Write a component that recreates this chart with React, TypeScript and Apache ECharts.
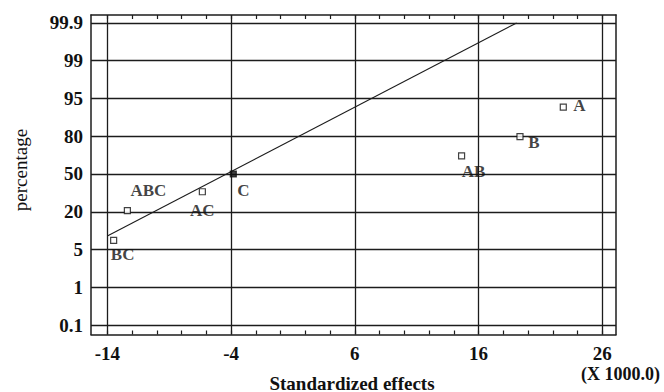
import React, { useEffect, useRef } from "react";
import * as echarts from "echarts";

const xTickValues = [-14, -4, 6, 16, 26];
const xMinorTicks = [-14, -12, -10, -8, -6, -4, -2, 0, 2, 4, 6, 8, 10, 12, 14, 16, 18, 20, 22, 24, 26];
const yTickLabels = ["0.1", "1", "5", "20", "50", "80", "95", "99", "99.9"];
const yTickIndex = [0, 1, 2, 3, 4, 5, 6, 7, 8];

const effectNames = ["BC", "ABC", "AC", "C", "AB", "B", "A"];
const effectX = [-13.49, -12.38, -6.32, -3.82, 14.63, 19.35, 22.85];
const effectY = [2.24, 3.03, 3.53, 4.0, 4.48, 4.99, 5.77];
const filledEffects = ["C"];

const fitLineX = [-14, 19.08];
const fitLineY = [2.36, 8.0];

const labelOffsets: Record<string, number[]> = {
  BC: [9, 14],
  ABC: [21, -20],
  AC: [0, 19],
  C: [10, 17],
  AB: [12, 16],
  B: [14, 6],
  A: [16, -2],
};

const FONT = "'Liberation Serif', 'Times New Roman', serif";
const INK = "#1c1c1c";

export default function App() {
  const ref = useRef<HTMLDivElement>(null);
  useEffect(() => {
    if (!ref.current) return;
    const chart = echarts.init(ref.current, undefined, { renderer: "svg" });
    const xMin = -15.32;
    const xMax = 27.11;
    const yMin = -0.25;
    const yMax = 8.21;
    const axisLine = { show: true, onZero: false, lineStyle: { color: INK, width: 1.5 } };
    chart.setOption({
      animation: false,
      backgroundColor: "#ffffff",
      textStyle: { fontFamily: FONT },
      grid: { left: 91, right: 48, top: 15, bottom: 57.5, containLabel: false },
      xAxis: [
        {
          type: "value",
          position: "bottom",
          min: xMin,
          max: xMax,
          axisLine,
          splitLine: { show: false },
          axisTick: { show: true, inside: true, length: 4, customValues: xMinorTicks, lineStyle: { color: INK, width: 1.2 } },
          axisLabel: {
            customValues: xTickValues,
            margin: 9,
            fontFamily: FONT,
            fontSize: 19,
            fontWeight: "bold",
            color: "#111",
          },
        },
        {
          type: "value",
          position: "top",
          min: xMin,
          max: xMax,
          axisLine,
          splitLine: { show: false },
          axisTick: { show: true, inside: true, length: 4, customValues: xMinorTicks, lineStyle: { color: INK, width: 1.2 } },
          axisLabel: { show: false },
        },
      ],
      yAxis: [
        {
          type: "value",
          position: "left",
          min: yMin,
          max: yMax,
          axisLine,
          splitLine: { show: false },
          axisTick: { show: false },
          axisLabel: {
            customValues: yTickIndex,
            formatter: (v: number) => yTickLabels[Math.round(v)] ?? "",
            margin: 8,
            fontFamily: FONT,
            fontSize: 19,
            fontWeight: "bold",
            color: "#111",
          },
        },
        {
          type: "value",
          position: "right",
          min: yMin,
          max: yMax,
          axisLine,
          splitLine: { show: false },
          axisTick: { show: false },
          axisLabel: { show: false },
        },
      ],
      graphic: [
        {
          type: "text",
          x: 660,
          y: 374,
          style: {
            text: "(X 1000.0)",
            font: `bold 18px ${FONT}`,
            fill: "#111",
            align: "right",
            verticalAlign: "middle",
          },
        },
        {
          type: "text",
          x: 352,
          y: 383,
          style: {
            text: "Standardized effects",
            font: `bold 19px ${FONT}`,
            fill: "#111",
            align: "center",
            verticalAlign: "middle",
          },
        },
        {
          type: "text",
          x: 20,
          y: 170,
          rotation: Math.PI / 2,
          style: {
            text: "percentage",
            font: `19px ${FONT}`,
            fill: "#111",
            align: "center",
            verticalAlign: "middle",
          },
        },
      ],
      series: [
        {
          type: "line",
          xAxisIndex: 0,
          yAxisIndex: 0,
          data: fitLineX.map((x, i) => [x, fitLineY[i]]),
          showSymbol: false,
          symbol: "none",
          lineStyle: { color: INK, width: 1.1 },
          silent: true,
          z: 3,
          markLine: {
            silent: true,
            symbol: "none",
            label: { show: false },
            lineStyle: { color: INK, width: 1.3, type: "solid" },
            data: [
              ...xTickValues.map((v) => ({ xAxis: v })),
              ...yTickIndex.map((v) => ({ yAxis: v })),
            ],
          },
        },
        {
          type: "scatter",
          xAxisIndex: 0,
          yAxisIndex: 0,
          symbol: "rect",
          symbolSize: 6,
          z: 5,
          data: effectNames.map((n, i) => ({
            name: n,
            value: [effectX[i], effectY[i]],
            itemStyle: {
              color: filledEffects.includes(n) ? "#111" : "#ffffff",
              borderColor: "#111",
              borderWidth: 1.2,
            },
            label: {
              show: true,
              formatter: n,
              position: "inside",
              align: "center",
              verticalAlign: "middle",
              offset: labelOffsets[n],
              fontFamily: FONT,
              fontSize: 17,
              fontWeight: "bold",
              color: "#111",
            },
          })),
        },
      ],
    });
    return () => chart.dispose();
  }, []);
  return (
    <div
      ref={ref}
      style={{ position: "fixed", left: 0, top: 0, width: 664, height: 392, background: "#fff" }}
    />
  );
}
